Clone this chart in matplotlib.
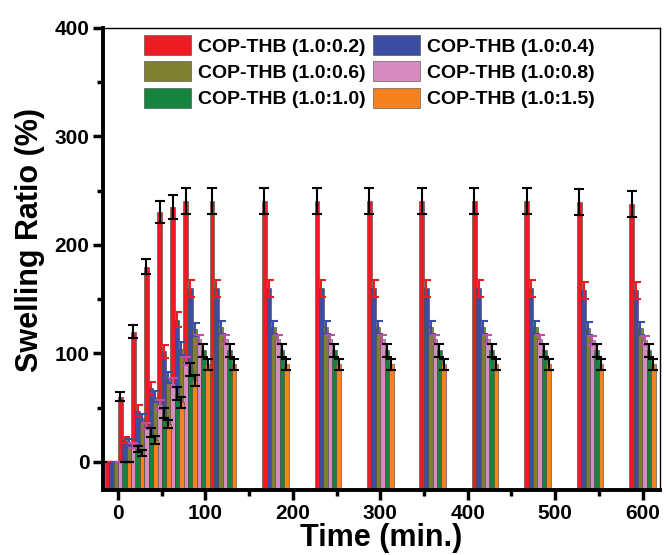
import matplotlib
matplotlib.use("Agg")
import matplotlib.pyplot as plt
from matplotlib.ticker import MultipleLocator
import numpy as np

plt.rcParams['font.family'] = ['Liberation Sans', 'DejaVu Sans']
plt.rcParams['font.weight'] = 'bold'

times = [0, 15, 30, 45, 60, 75, 90, 120, 180, 240, 300, 360, 420, 480, 540, 600]
labels = ["COP-THB (1.0:0.2)", "COP-THB (1.0:0.4)", "COP-THB (1.0:0.6)",
          "COP-THB (1.0:0.8)", "COP-THB (1.0:1.0)", "COP-THB (1.0:1.5)"]

r02 = [0, 60, 120, 180, 230, 235, 240, 240, 240, 240, 240, 240, 240, 240, 239, 238]
r04 = [0, 20, 47, 68, 102, 131, 160, 160, 160, 160, 160, 160, 160, 160, 158, 158]
r06 = [0, 18, 40, 60, 78, 104, 122, 124, 124, 124, 124, 124, 124, 124, 123, 123]
r08 = [0, 15, 33, 53, 73, 93, 113, 113, 113, 113, 113, 113, 113, 113, 112, 112]
r10 = [0, 12, 27, 45, 63, 85, 103, 103, 103, 103, 103, 103, 103, 103, 103, 103]
r15 = [0, 8, 20, 35, 55, 75, 90, 90, 90, 90, 90, 90, 90, 90, 90, 90]

e02 = [0, 4, 6, 7, 10, 11, 12, 12, 12, 12, 12, 12, 12, 12, 12, 12]
e04 = [0, 3, 5, 6, 6, 7, 8, 8, 8, 8, 8, 8, 8, 8, 8, 8]
e06 = [0, 3, 4, 5, 5, 6, 6, 6, 6, 6, 6, 6, 6, 6, 6, 6]
e08 = [0, 2, 3, 4, 4, 4, 4, 4, 4, 4, 4, 4, 4, 4, 4, 4]
e10 = [0, 3, 4, 5, 6, 6, 6, 6, 6, 6, 6, 6, 6, 6, 6, 6]
e15 = [0, 3, 4, 4, 5, 5, 5, 5, 5, 5, 5, 5, 5, 5, 5, 5]

series = [r02, r04, r06, r08, r10, r15]
errors = [e02, e04, e06, e08, e10, e15]
colors = ['#EC1C24', '#3B4EA2', '#7F7F30', '#D68BBE', '#14843F', '#F5821F']
ecolors = ['black', '#EC1C24', '#3B4EA2', '#C24FA6', 'black', 'black']

ymin, ymax = -26, 400
fig = plt.figure(figsize=(6.66, 5.55), dpi=100)
ax = fig.add_axes([0.155, 0.117, 0.836, 0.833])

bw = 5.4
t = np.array(times, dtype=float)
handles = []
for i, (vals, err, c, ec, lab) in enumerate(zip(series, errors, colors, ecolors, labels)):
    v = np.array(vals, dtype=float)
    x = t + (i - 2.5) * 5.0
    h = ax.bar(x, v - ymin, bottom=ymin, width=bw, color=c, edgecolor='#444444',
               linewidth=0.4, label=lab)
    ax.errorbar(x, v, yerr=err, fmt='none', ecolor=ec, elinewidth=1.5,
                capsize=3.5, capthick=1.5)
    handles.append(h)

ax.set_xlim(-17, 620)
ax.set_ylim(ymin, ymax)
ax.xaxis.set_major_locator(MultipleLocator(100))
ax.xaxis.set_minor_locator(MultipleLocator(50))
ax.yaxis.set_major_locator(MultipleLocator(100))
ax.yaxis.set_minor_locator(MultipleLocator(50))
ax.tick_params(which='major', direction='out', length=7, width=2.5, labelsize=15, pad=3)
ax.tick_params(which='minor', direction='out', length=4, width=2.5)
for lbl in ax.get_xticklabels() + ax.get_yticklabels():
    lbl.set_fontweight('bold')

for s in ['left', 'bottom']:
    ax.spines[s].set_linewidth(2.8)
for s in ['top', 'right']:
    ax.spines[s].set_linewidth(1.0)

ax.set_xlabel('Time (min.)', fontsize=22, fontweight='bold', labelpad=0)
ax.set_ylabel('Swelling Ratio (%)', fontsize=22, fontweight='bold')
ax.yaxis.set_label_coords(-0.104, 0.54)

order = [0, 2, 4, 1, 3, 5]
leg = fig.legend([handles[k] for k in order], [labels[k] for k in order], ncol=2,
                 loc='upper left', bbox_to_anchor=(144 / 666, 1 - 35 / 555),
                 bbox_transform=fig.transFigure, frameon=False,
                 fontsize=14, handlelength=2.42, handleheight=1.2,
                 columnspacing=0.36, handletextpad=0.36, labelspacing=0.3,
                 borderaxespad=0, borderpad=0)
for txt in leg.get_texts():
    txt.set_fontweight('bold')

fig.savefig('out.png', dpi=100)
